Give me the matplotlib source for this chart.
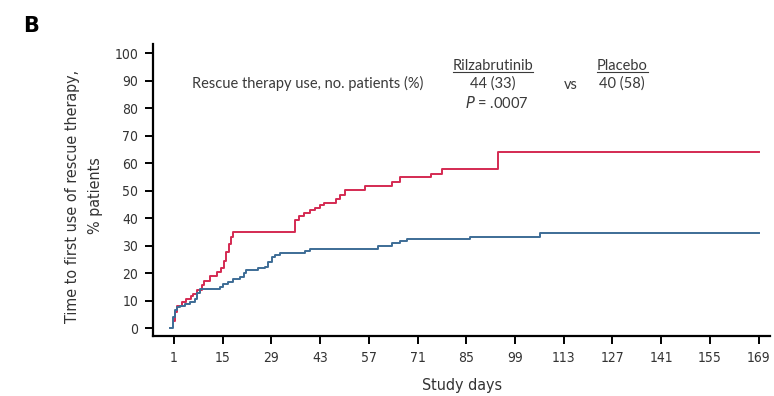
"""Time to first rescue therapy - KM style step curves (panel B)."""
import matplotlib
matplotlib.use("Agg")
import matplotlib.pyplot as plt
from matplotlib.lines import Line2D

# ── data ───────────────────────────────────────────────────────────
red_days = [1, 1.3, 2.0, 3.2, 4.6, 5.8, 6.5, 7.5, 9.0, 9.6, 11.5, 13.5, 14.5, 15.3,
            16.0, 16.7, 17.3, 17.9, 35.8, 37.0, 38.4, 40.1, 41.5, 43.0, 44.0, 47.7,
            48.6, 50.1, 55.9, 63.8, 65.9, 75.0, 77.9, 94.2, 169]
red_pct = [2.5, 6.0, 8.0, 9.5, 10.5, 11.5, 12.5, 14.0, 15.5, 17.2, 18.8, 20.2, 21.7, 24.3,
           27.5, 30.5, 33.2, 35.0, 39.3, 40.6, 41.9, 42.9, 43.8, 44.7, 45.6, 46.8,
           48.4, 50.1, 51.6, 53.2, 54.8, 56.2, 57.8, 63.9, 63.9]

blue_days = [0, 0.6, 1.3, 2.0, 2.7, 4.2, 5.6, 7.0, 7.7, 8.5, 14.2, 15.2, 16.6, 18.0,
             20.0, 21.0, 21.8, 25.2, 27.1, 28.1, 29.1, 30.0, 31.5, 38.6, 40.1, 59.6,
             63.8, 65.9, 67.9, 86.0, 106.2, 169]
blue_pct = [0, 4.1, 6.5, 7.5, 8.0, 8.7, 9.6, 10.4, 12.6, 14.2, 15.0, 16.0, 16.8, 17.7,
            18.7, 19.9, 21.1, 21.7, 22.3, 24.1, 25.7, 26.5, 27.4, 28.0, 28.8, 29.9,
            30.8, 31.6, 32.2, 33.2, 34.4, 34.4]

x_ticks = [1, 15, 29, 43, 57, 71, 85, 99, 113, 127, 141, 155, 169]
y_ticks = [0, 10, 20, 30, 40, 50, 60, 70, 80, 90, 100]

RED = "#d42a52"
BLUE = "#3d6c96"
SANS = ["Lato", "DejaVu Sans"]
cond = dict(family="DejaVu Sans", stretch="condensed", color="#333333")

fig = plt.figure(figsize=(7.74, 3.96), dpi=100)
ax = fig.add_axes([0.1977, 0.1515, 0.7973, 0.7374])

ax.step(blue_days, blue_pct, where="post", color=BLUE, lw=1.4, zorder=3)
ax.step(red_days, red_pct, where="post", color=RED, lw=1.4, zorder=2)

ax.set_xlim(-5.0, 172.3)
ax.set_ylim(-2.9, 103.3)
ax.set_xticks(x_ticks)
ax.set_yticks(y_ticks)
for s in ("top", "right"):
    ax.spines[s].set_visible(False)
for s in ("left", "bottom"):
    ax.spines[s].set_linewidth(1.6)
ax.tick_params(direction="out", length=5.5, width=1.4, labelsize=10, pad=5)
for lab in ax.get_xticklabels() + ax.get_yticklabels():
    lab.set_family("DejaVu Sans")
    lab.set_stretch("condensed")
    lab.set_color("#333333")

ax.set_xlabel("Study days", fontsize=11.5, labelpad=10, **cond)
fig.text(0.094, 0.505, "Time to first use of rescue therapy,", rotation=90,
         ha="center", va="center", fontsize=11.5, **cond)
fig.text(0.123, 0.505, "% patients", rotation=90,
         ha="center", va="center", fontsize=11.5, **cond)

fig.text(0.030, 0.935, "B", family=["DejaVu Sans"], fontsize=15, weight="bold",
         ha="left", va="center")

# annotation block
tc = "#3a3a3a"
fs = 10.5
fig.text(0.248, 0.790, "Rescue therapy use, no. patients (%)", family=SANS,
         fontsize=fs, color=tc, ha="left", va="center")
t1 = fig.text(0.637, 0.834, "Rilzabrutinib", family=SANS, fontsize=fs, color=tc,
              ha="center", va="center")
fig.text(0.637, 0.790, "44 (33)", family=SANS, fontsize=fs, color=tc, ha="center", va="center")
fig.text(0.738, 0.786, "vs", family=SANS, fontsize=fs, color=tc, ha="center", va="center")
t2 = fig.text(0.804, 0.834, "Placebo", family=SANS, fontsize=fs, color=tc,
              ha="center", va="center")
fig.text(0.804, 0.790, "40 (58)", family=SANS, fontsize=fs, color=tc, ha="center", va="center")
fig.text(0.642, 0.740, "$\\mathit{P}$ = .0007", family=SANS, fontsize=fs, color=tc,
         ha="center", va="center")

# underline the two group headers
r = fig.canvas.get_renderer()
for t in (t1, t2):
    bb = t.get_window_extent(r).transformed(fig.transFigure.inverted())
    fig.add_artist(Line2D([bb.x0, bb.x1], [bb.y0 + 0.002, bb.y0 + 0.002],
                          transform=fig.transFigure, color=tc, lw=0.8))

fig.savefig("out.png", dpi=100)
